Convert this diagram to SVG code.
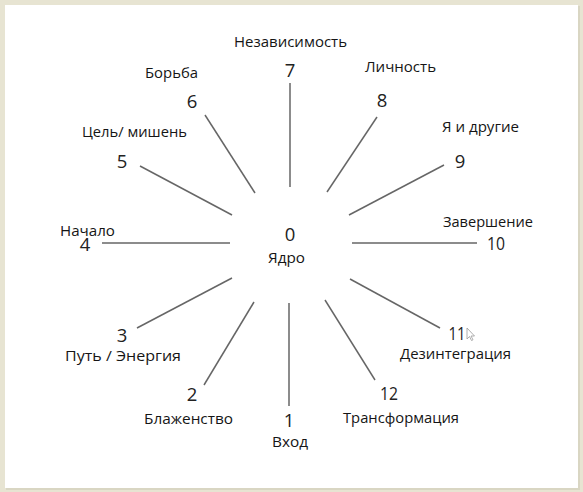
<svg xmlns="http://www.w3.org/2000/svg" width="583" height="492" viewBox="0 0 583 492">
<style>
.bg{fill:#e7e4d2}
.panel{fill:#ffffff}
.ray{stroke:#666666;stroke-width:1.5;stroke-linecap:butt;fill:none}
.lbl{font-family:"Open Sans","Noto Sans","Liberation Sans",sans-serif;font-size:15px;fill:#151515}
.num{font-family:"Open Sans","Noto Sans","Liberation Sans",sans-serif;font-size:18.5px;fill:#222222;text-anchor:middle}
</style>
<rect class="bg" x="0" y="0" width="583" height="492"/>
<rect x="578" y="6" width="2" height="484" fill="#d9d6c3"/>
<rect x="6" y="488" width="574" height="2" fill="#d9d6c3"/>
<rect class="panel" x="5" y="5" width="573" height="483"/>
<g id="connectors">
<line class="ray" x1="290" y1="83" x2="290" y2="187"/>
<line class="ray" x1="377" y1="117" x2="327" y2="192"/>
<line class="ray" x1="444" y1="165" x2="349" y2="215"/>
<line class="ray" x1="352" y1="243" x2="477" y2="243"/>
<line class="ray" x1="350" y1="279" x2="440" y2="328"/>
<line class="ray" x1="325" y1="300" x2="375" y2="380"/>
<line class="ray" x1="289" y1="303" x2="289" y2="406"/>
<line class="ray" x1="254" y1="302" x2="204" y2="385"/>
<line class="ray" x1="232" y1="278" x2="137" y2="328"/>
<line class="ray" x1="102" y1="243" x2="230" y2="243"/>
<line class="ray" x1="140" y1="166" x2="232" y2="215"/>
<line class="ray" x1="205" y1="115" x2="255" y2="193"/>
</g>
<g id="node0"><text class="num" x="290" y="241">0</text><text class="lbl" x="268" y="263" textLength="37" lengthAdjust="spacingAndGlyphs">Ядро</text></g>
<g id="node1"><text class="num" x="289" y="427">1</text><text class="lbl" x="272" y="447" textLength="36" lengthAdjust="spacingAndGlyphs">Вход</text></g>
<g id="node2"><text class="num" x="192" y="401">2</text><text class="lbl" x="144" y="424" textLength="89" lengthAdjust="spacingAndGlyphs">Блаженство</text></g>
<g id="node3"><text class="num" x="122" y="342">3</text><text class="lbl" x="65" y="361" textLength="116" lengthAdjust="spacingAndGlyphs">Путь / Энергия</text></g>
<g id="node4"><text class="num" x="85" y="251">4</text><text class="lbl" x="60" y="236" textLength="55" lengthAdjust="spacingAndGlyphs">Начало</text></g>
<g id="node5"><text class="num" x="122" y="168">5</text><text class="lbl" x="82" y="137" textLength="105" lengthAdjust="spacingAndGlyphs">Цель/ мишень</text></g>
<g id="node6"><text class="num" x="192" y="108">6</text><text class="lbl" x="145" y="78" textLength="53" lengthAdjust="spacingAndGlyphs">Борьба</text></g>
<g id="node7"><text class="num" x="290" y="77">7</text><text class="lbl" x="234" y="47" textLength="113" lengthAdjust="spacingAndGlyphs">Независимость</text></g>
<g id="node8"><text class="num" x="382" y="107">8</text><text class="lbl" x="365" y="72" textLength="71" lengthAdjust="spacingAndGlyphs">Личность</text></g>
<g id="node9"><text class="num" x="460" y="168">9</text><text class="lbl" x="442" y="132" textLength="77" lengthAdjust="spacingAndGlyphs">Я и другие</text></g>
<g id="node10"><text class="num" x="496" y="250" textLength="18" lengthAdjust="spacingAndGlyphs">10</text><text class="lbl" x="443" y="227" textLength="90" lengthAdjust="spacingAndGlyphs">Завершение</text></g>
<g id="node11"><text class="num" x="457" y="340" textLength="17" lengthAdjust="spacingAndGlyphs">11</text><text class="lbl" x="400" y="359" textLength="111" lengthAdjust="spacingAndGlyphs">Дезинтеграция</text></g>
<g id="node12"><text class="num" x="389" y="400" textLength="18" lengthAdjust="spacingAndGlyphs">12</text><text class="lbl" x="343" y="423" textLength="116" lengthAdjust="spacingAndGlyphs">Трансформация</text></g>
<path d="M467 328 L467 339 L469.5 336.5 L471.5 340.5 L473 339.8 L471 336 L474.5 336 Z" fill="#ffffff" stroke="#9a9a9a" stroke-width="0.8"/>
</svg>
